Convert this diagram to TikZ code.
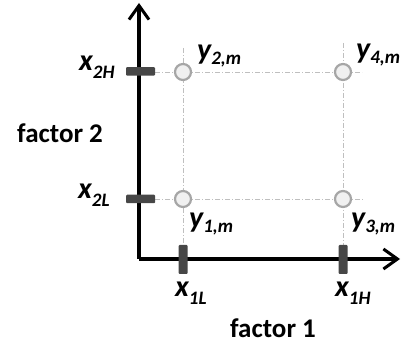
\documentclass[tikz,border=0pt]{standalone}
\usepackage{fontspec}
\setmainfont{Carlito}
\usetikzlibrary{arrows.meta}
\newcommand{\varlab}[3]{{\fontsize{30}{30}\selectfont\bfseries\itshape #1}\raisebox{-#3}{\fontsize{19}{19}\selectfont\bfseries\itshape #2}}
\begin{document}
\begin{tikzpicture}[x=1pt,y=-1pt,
  axis/.style={line width=3.2pt,-{Straight Barb[length=14pt,width=20pt,line width=3pt]}},
  tickmark/.style={fill=black!72,rounded corners=1pt,inner sep=0pt,draw=none},
  pt/.style={circle,draw=black!35,fill=black!6,line width=2.2pt,minimum size=16pt,inner sep=0pt},
  grid/.style={draw=black!25,line width=0.8pt,dash pattern=on 5pt off 2pt on 1pt off 2pt},
  lab/.style={inner sep=0pt},
  ftxt/.style={inner sep=0pt,font=\fontsize{27}{27}\selectfont\bfseries}]
\useasboundingbox (0,0) rectangle (401,344);
\coordinate (o) at (139,259);
\coordinate (ytop) at (139,3);
\coordinate (xend) at (400,259);
% grid lines
\coordinate (g2Hs) at (155,72);  \coordinate (g2He) at (362,72);
\coordinate (g2Ls) at (155,199); \coordinate (g2Le) at (363,199);
\coordinate (g1Ls) at (183,48);  \coordinate (g1Le) at (183,259);
\coordinate (g1Hs) at (343,43);  \coordinate (g1He) at (343,259);
\draw[grid] (g2Hs) -- (g2He);
\draw[grid] (g2Ls) -- (g2Le);
\draw[grid] (g1Ls) -- (g1Le);
\draw[grid] (g1Hs) -- (g1He);
% axes
\draw[axis] (o) -- (ytop);
\draw[axis] (o) -- (xend);
% ticks
\node[tickmark,minimum width=29pt,minimum height=8.5pt] (t2H) at (140.5,71.5) {};
\node[tickmark,minimum width=29pt,minimum height=8.5pt] (t2L) at (140.5,199) {};
\node[tickmark,minimum width=9pt,minimum height=29pt] (t1L) at (183,259.5) {};
\node[tickmark,minimum width=9pt,minimum height=29pt] (t1H) at (343,259.5) {};
% points
\node[pt] (p2) at (183,72) {};
\node[pt] (p4) at (343,72) {};
\node[pt] (p1) at (183,199) {};
\node[pt] (p3) at (343,199) {};
% labels
\node[lab,anchor=base west] (lx2H) at (79,71) {\varlab{x}{2H}{8pt}};
\node[lab,anchor=base west] (lx2L) at (78,199) {\varlab{x}{2L}{8pt}};
\node[lab,anchor=base west] (lx1L) at (175,296) {\varlab{x}{1L}{8pt}};
\node[lab,anchor=base west] (lx1H) at (335,296) {\varlab{x}{1H}{8pt}};
\node[lab,anchor=base west] (ly2) at (197,60) {\varlab{y}{2,m}{5pt}};
\node[lab,anchor=base west] (ly4) at (356,59) {\varlab{y}{4,m}{5pt}};
\node[lab,anchor=base west] (ly1) at (189,228) {\varlab{y}{1,m}{5pt}};
\node[lab,anchor=base west] (ly3) at (351,228) {\varlab{y}{3,m}{5pt}};
\node[ftxt,anchor=base] (f1) at (273,337) {factor 1};
\node[ftxt,anchor=base west] (f2) at (17,143) {factor 2};
\end{tikzpicture}
\end{document}
